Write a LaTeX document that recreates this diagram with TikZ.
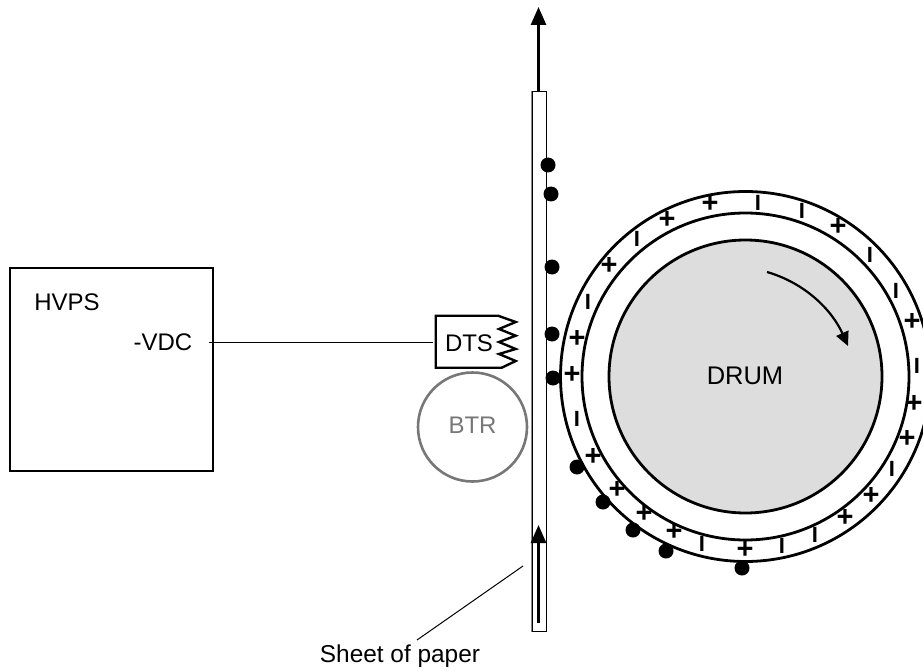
\documentclass[tikz,border=0pt]{standalone}
\usepackage{fontspec}
\setmainfont{Liberation Sans}
\usepackage{tikz}
\usetikzlibrary{arrows.meta,positioning,calc}
\definecolor{drumgray}{RGB}{221,221,221}
\definecolor{btrgray}{RGB}{119,119,119}
\definecolor{edgegray}{RGB}{136,136,136}
\tikzset{
  lbl/.style={font=\fontsize{24}{28}\selectfont, inner sep=0pt},
  flowarr/.style={-{Stealth[length=18pt, width=15pt, inset=0pt]}, black, line width=2.8pt},
  thin1/.style={black, line width=1pt},
  ring/.style={draw=black, line width=2.8pt, circle, inner sep=0pt},
  toner/.style={circle, fill=black, inner sep=0pt, minimum size=15pt},
  plussign/.style={font=\fontsize{29}{30}\selectfont\bfseries, inner sep=0pt},
  minsign/.style={font=\fontsize{22}{24}\selectfont\bfseries, inner sep=0pt},
}
\begin{document}
\begin{tikzpicture}[x=1pt, y=-1pt]
  \useasboundingbox (0,0) rectangle (923,671);
  \clip (0,0) rectangle (923,671);
  % power supply
  \node[draw=black, line width=1.8pt, minimum size=203pt, inner sep=0pt] (hvps) at (111.5,369.5) {};
  \node[lbl] (hvpslab) at (67,302) {HVPS};
  \node[lbl] (vdc) at (163,342) {-VDC};
  % drum and its rings
  \node[ring, minimum size=370pt] (outer) at (745.5,376.5) {};
  \node[ring, minimum size=327pt] (middle) at (745.5,376.5) {};
  \node[ring, fill=drumgray, minimum size=273pt] (drum) at (745.5,376.5) {};
  \node[lbl, font=\fontsize{25.5}{30}\selectfont] (drumlab) at (745,376) {DRUM};
  \coordinate (rotstart) at (767,272);
  \coordinate (rotend) at (848,346);
  \draw[-{Stealth[length=14pt, width=13pt, inset=0pt]}, line width=2.2pt] (rotstart) .. controls (805,283) and (832,310) .. (rotend);
  % sheet
  \node[draw=black, line width=1pt, minimum width=14.5pt, minimum height=539pt, inner sep=0pt] (paper) at (539.25,361.5) {};
  \draw[edgegray, line width=1.6pt] (paper.north west) -- (paper.south west);
  \coordinate (uptip) at (538.5,7);
  \coordinate (lowstart) at (538.5,623);
  \coordinate (lowtip) at (538.5,525);
  \draw[flowarr] (paper.north -| uptip) -- (uptip);
  \draw[flowarr] (lowstart) -- (lowtip);
  \coordinate (leadin) at (523,566);
  \coordinate (leadout) at (417,640);
  \draw[thin1] (leadin) -- (leadout);
  \node[lbl, font=\fontsize{24.4}{28}\selectfont] (sheetlab) at (400,656) {Sheet of paper};
  % transfer parts
  \node[draw=btrgray, line width=2.6pt, circle, minimum size=109pt, inner sep=0pt] (btr) at (472.5,427) {};
  \node[lbl, text=btrgray] (btrlab) at (472.5,425) {BTR};
  \draw[black, line width=2.4pt, line join=miter]
    (498,315.7) -- (435.7,315.7) -- (435.7,367.7) -- (501.7,367.7) -- (515.7,361) -- (499,354)
    -- (515.7,349) -- (499,342) -- (515.7,335.7) -- (499,329) -- (515.7,322) -- cycle;
  \node[lbl] (dtslab) at (469,343) {DTS};
  \coordinate (vdcout) at (209,342);
  \coordinate (dtsin) at (433,342);
  \draw[thin1] (vdcout) -- (dtsin);
  % toner
  \foreach \i/\px/\py in {1/548/165, 2/551/194, 3/552/267, 4/552/334, 5/553/378, 6/577/467, 7/603/502, 8/633/530, 9/666/551, 10/742/568}
    \node[toner] (toner\i) at (\px,\py) {};
  % charges
  \foreach \i/\px/\py in {1/710/206, 2/838/229, 3/912/324, 4/667/222, 5/609/268, 6/577/341, 7/572/377, 8/593/459, 9/617/492, 10/644/516, 11/674/534, 12/745/552, 13/845/520, 14/871/498, 15/907/441, 16/914/406}
    \node[plussign] (plus\i) at (\px,\py-2) {+};
  \foreach \i/\px/\py in {1/758/203, 2/802/211, 3/870/255, 4/896/291, 5/917/366, 6/637/239, 7/588/302, 8/577/419, 9/702/544, 10/782/546, 11/815/535, 12/892/469}
    \node[minsign] (minus\i) at (\px,\py) {I};
\end{tikzpicture}
\end{document}
